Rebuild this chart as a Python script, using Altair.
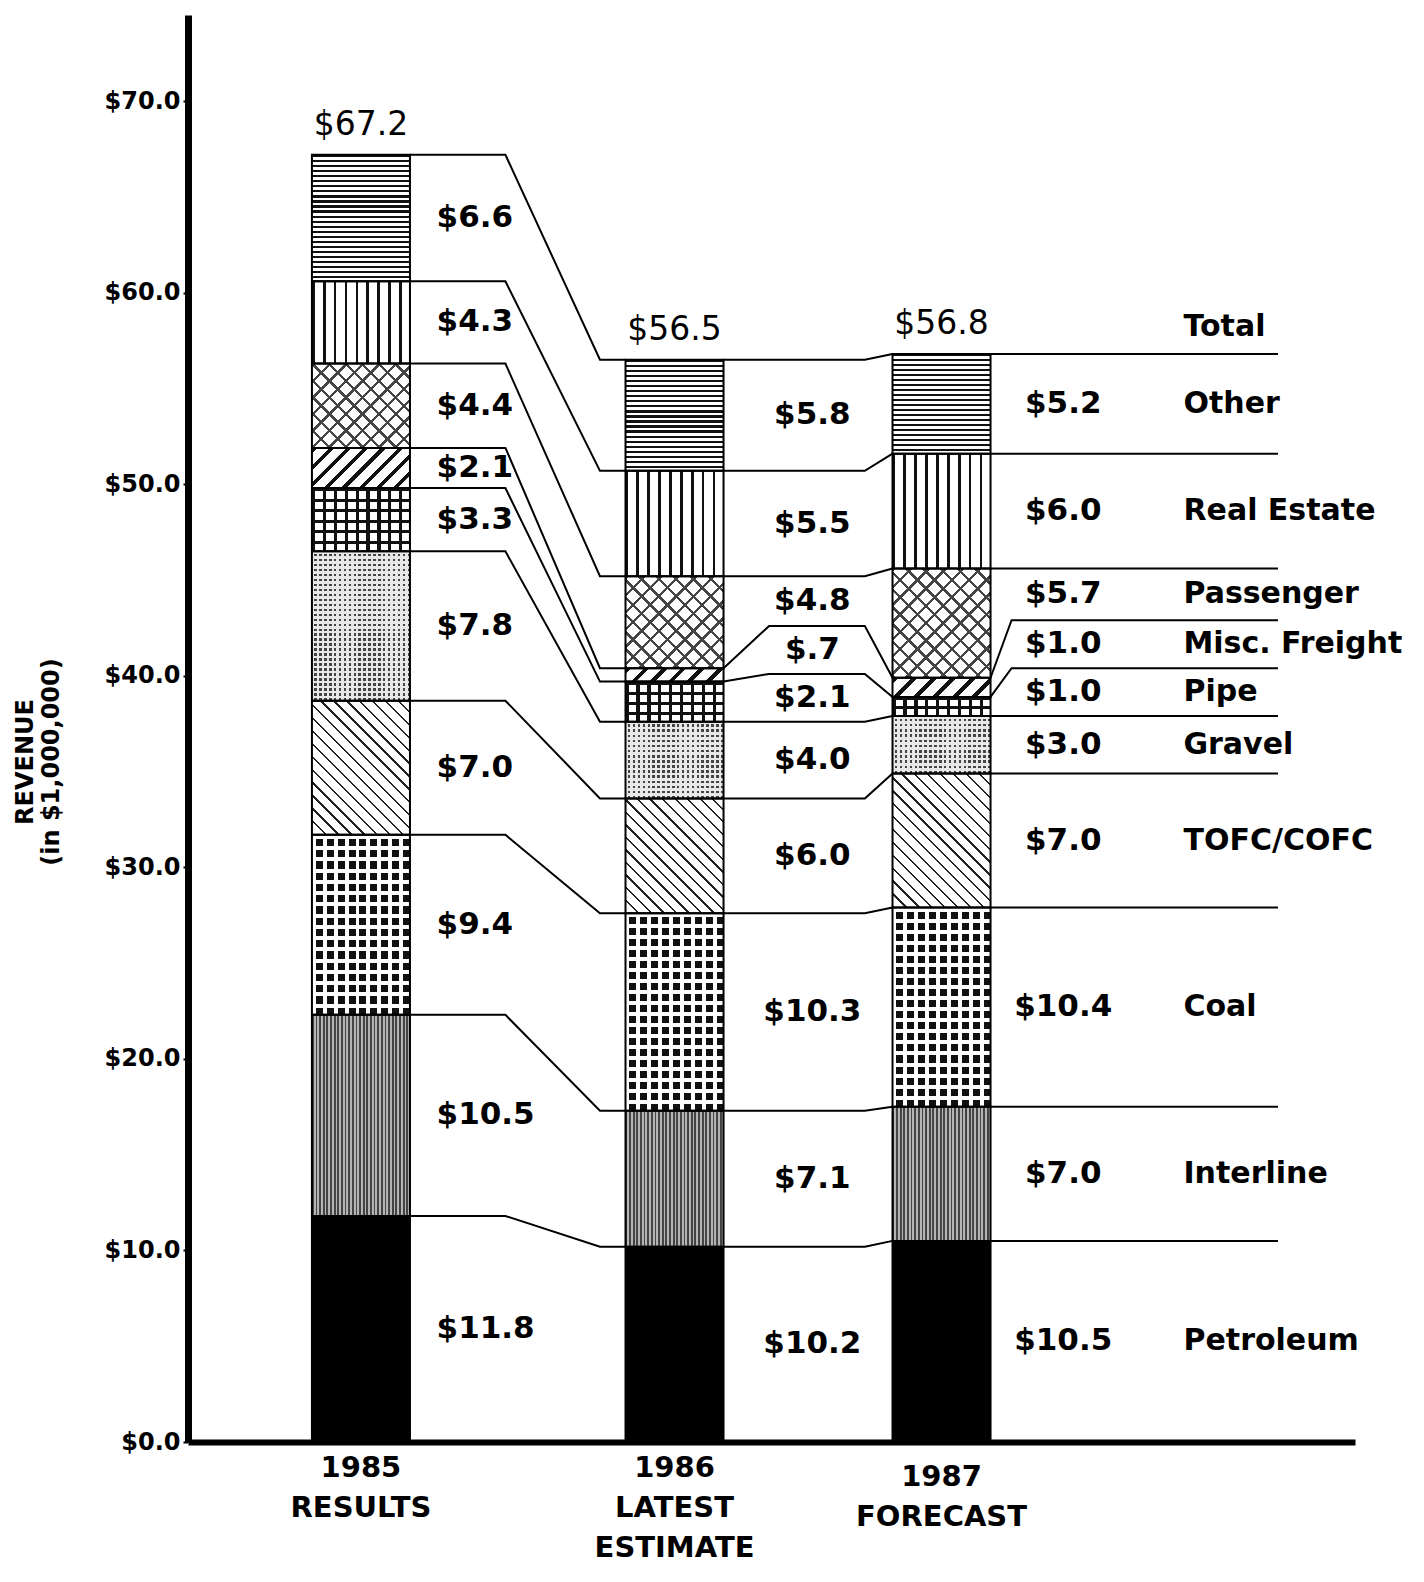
import math
import pandas as pd
import altair as alt

# ---------------- data ----------------
CATEGORIES = ["Petroleum", "Interline", "Coal", "TOFC/COFC", "Gravel", "Pipe",
              "Misc. Freight", "Passenger", "Real Estate", "Other"]
V1985 = [11.8, 10.5, 9.4, 7.0, 7.8, 3.3, 2.1, 4.4, 4.3, 6.6]
V1986 = [10.2, 7.1, 10.3, 6.0, 4.0, 2.1, 0.7, 4.8, 5.5, 5.8]
V1987 = [10.5, 7.0, 10.4, 7.0, 3.0, 1.0, 1.0, 5.7, 6.0, 5.2]
TOTALS = [67.2, 56.5, 56.8]
X_LABELS = ["1985\nRESULTS", "1986\nLATEST\nESTIMATE", "1987\nFORECAST"]
Y_TICKS = [0, 10, 20, 30, 40, 50, 60, 70]
Y_TITLE = ["REVENUE", "(in $1,000,000)"]
TOTAL_NAME = "Total"

# ---------------- layout ----------------
FONT = "DejaVu Sans"
W_PX, H_PX = 1167, 1427
X_DOM = [0, 100]
Y_DOM = [0, 74.5]
PXX = W_PX / (X_DOM[1] - X_DOM[0])
PXY = H_PX / (Y_DOM[1] - Y_DOM[0])
BAR_CENTERS = [14.82, 41.69, 64.57]
BAR_HALF = 4.2
XA1, XA2 = 27.2, 35.3
XB_DIAG, XB1 = 3.9, 58.0
XC_DIAG, XC_END = 1.8, 93.4
LBL_X = [21.3, 53.5, 75.0]
NAME_X = 85.3
MIN_GAP = 2.5
XLABEL_DY = [0, 0, 9]

xs = alt.Scale(domain=X_DOM, nice=False, zero=False)
ys = alt.Scale(domain=Y_DOM, nice=False, zero=False)
AX_X = alt.Axis(title=None, labels=False, ticks=False, grid=False,
                domainWidth=6, domainColor="black")
AX_Y = alt.Axis(title=None, values=Y_TICKS, format="$.1f", grid=False,
                domainWidth=7, domainColor="black", tickColor="black",
                tickSize=5, tickWidth=2, labelFont=FONT, labelFontSize=24,
                labelFontWeight="bold", labelColor="black", labelPadding=3,
                labelOverlap=False)


def X(field):
    return alt.X(field, scale=xs, axis=AX_X)


def Y(field):
    return alt.Y(field, scale=ys, axis=AX_Y)


def cum(vals):
    out = [0.0]
    for v in vals:
        out.append(round(out[-1] + v, 4))
    return out


def spread(levels):
    out = [levels[0]]
    for v in levels[1:]:
        out.append(round(max(v, out[-1] + MIN_GAP), 4))
    return out


def fmt(v):
    s = f"${v:.1f}"
    return s.replace("$0.", "$.")


c85, c86, c87 = cum(V1985), cum(V1986), cum(V1987)
m86, r87 = spread(c86), spread(c87)
x85R = BAR_CENTERS[0] + BAR_HALF
x86L, x86R = BAR_CENTERS[1] - BAR_HALF, BAR_CENTERS[1] + BAR_HALF
x87L, x87R = BAR_CENTERS[2] - BAR_HALF, BAR_CENTERS[2] + BAR_HALF

# ---------------- patterns ----------------
TRANSP = "rgba(255,255,255,0)"
PATTERNS = {
    "Other": [("h", 5.0, 0.45, "#111", "white")],
    "Real Estate": [("v", 10.9, 0.25, "#111", "white")],
    "Passenger": [("/", 12, 0.2, "#444", "white"), ("\\", 12, 0.2, "#444", TRANSP)],
    "Misc. Freight": [("/", 13, 0.3, "#111", "white")],
    "Pipe": [("v", 10.9, 0.3, "#111", "white"), ("h", 10, 0.3, "#111", TRANSP)],
    "Gravel": [("solid", "#444"), ("v", 5, 0.5, "#e8e8e8", TRANSP), ("h", 5, 0.5, "#e8e8e8", TRANSP)],
    "TOFC/COFC": [("\\", 9, 0.18, "#222", "white")],
    "Coal": [("solid", "#111"), ("v", 11, 0.36, "white", TRANSP), ("h", 11, 0.36, "white", TRANSP)],
    "Interline": [("v", 3.6, 0.5, "#444", "#b4b4b4")],
    "Petroleum": [("solid", "black")],
}


def grad_fill(kind, period, frac, c_on, c_off, W, H):
    if kind == "h":
        n = max(1, round(H / period))
        pts = dict(x1=0, y1=0, x2=0, y2=1)
    elif kind == "v":
        n = max(1, round(W / period))
        pts = dict(x1=0, y1=0, x2=1, y2=0)
    else:
        r = H / W
        s = (1 + r) / (1 + r * r)
        n = max(1, round((W + H) / (math.sqrt(2) * period)))
        if kind == "/":
            pts = dict(x1=0, y1=0, x2=round(s, 6), y2=round(s * r, 6))
        else:
            pts = dict(x1=0, y1=1, x2=round(s, 6), y2=round(1 - s * r, 6))
    stops = []
    for i in range(n):
        a, b, c = i / n, (i + frac) / n, (i + 1) / n
        stops += [(a, c_on), (b, c_on), (b, c_off), (c, c_off)]
    return alt.LinearGradient(
        gradient="linear",
        stops=[alt.GradientStop(offset=round(o, 6), color=col) for o, col in stops],
        **pts,
    )


# ---------------- connector lines ----------------
line_rows = []


def add_line(lid, pts):
    for k, (x, y) in enumerate(pts):
        line_rows.append(dict(id=lid, ord=k, x=x, y=y))


for k in range(1, len(CATEGORIES) + 1):
    add_line(f"a{k}", [(x85R, c85[k]), (XA1, c85[k]), (XA2, c86[k]), (x86L, c86[k])])
    add_line(f"b{k}", [(x86R, c86[k]), (x86R + XB_DIAG, m86[k]), (XB1, m86[k]), (x87L, c87[k])])
    add_line(f"c{k}", [(x87R, c87[k]), (x87R + XC_DIAG, r87[k]), (XC_END, r87[k])])

lines = alt.Chart(pd.DataFrame(line_rows)).mark_line(color="black", strokeWidth=2).encode(
    x=X("x:Q"), y=Y("y:Q"), detail="id:N", order="ord:Q",
)

layers = [lines]

# ---------------- bars ----------------
seg_rows = []
for j, (vals, cs) in enumerate([(V1985, c85), (V1986, c86), (V1987, c87)]):
    for i, cat in enumerate(CATEGORIES):
        seg_rows.append(dict(cat=cat, year=j, x=BAR_CENTERS[j] - BAR_HALF, x2=BAR_CENTERS[j] + BAR_HALF,
                             y=cs[i], y2=cs[i + 1]))

Wseg = 2 * BAR_HALF * PXX
for row in seg_rows:
    H = (row["y2"] - row["y"]) * PXY
    df1 = pd.DataFrame([row])
    for p in PATTERNS[row["cat"]]:
        if p[0] == "solid":
            fill = p[1]
        else:
            fill = grad_fill(p[0], p[1], p[2], p[3], p[4], Wseg, H)
        layers.append(
            alt.Chart(df1).mark_rect(fill=fill, strokeWidth=0).encode(
                x=X("x:Q"), x2="x2:Q", y=Y("y:Q"), y2="y2:Q",
            )
        )

layers.append(
    alt.Chart(pd.DataFrame(seg_rows)).mark_rect(filled=False, color="black", strokeWidth=2).encode(
        x=X("x:Q"), x2="x2:Q", y=Y("y:Q"), y2="y2:Q",
    )
)

# ---------------- value labels ----------------
lab85 = [dict(x=LBL_X[0], y=(c85[i] + c85[i + 1]) / 2, t=fmt(v)) for i, v in enumerate(V1985)]
lab86 = [dict(x=LBL_X[1], y=(m86[i] + m86[i + 1]) / 2, t=fmt(v)) for i, v in enumerate(V1986)]
lab87 = [dict(x=LBL_X[2], y=(r87[i] + r87[i + 1]) / 2, t=fmt(v)) for i, v in enumerate(V1987)]
names = [dict(x=NAME_X, y=(r87[i] + r87[i + 1]) / 2, t=c) for i, c in enumerate(CATEGORIES)]


def text_layer(rows, align, size, weight, dy=0):
    return alt.Chart(pd.DataFrame(rows)).mark_text(
        font=FONT, fontSize=size, fontWeight=weight, align=align, baseline="middle",
        color="black", dy=dy
    ).encode(
        x=X("x:Q"), y=Y("y:Q"), text="t:N",
    )


layers.append(text_layer(lab85, "left", 31, "bold"))
layers.append(text_layer(lab86 + lab87, "center", 31, "bold"))
layers.append(text_layer(names, "left", 30, "bold"))
layers.append(text_layer([dict(x=NAME_X, y=r87[-1], t=TOTAL_NAME)], "left", 30, "bold", dy=-27))
layers.append(text_layer([dict(x=BAR_CENTERS[j], y=TOTALS[j], t=fmt(TOTALS[j])) for j in range(3)],
                         "center", 33, "normal", dy=-30))

# ---------------- category labels under bars ----------------
for j in range(3):
    layers.append(
        alt.Chart(pd.DataFrame([dict(x=BAR_CENTERS[j], t=X_LABELS[j])])).mark_text(
            font=FONT, fontSize=29, fontWeight="bold", align="center", baseline="top",
            lineBreak="\n", lineHeight=40, color="black"
        ).encode(
            x=X("x:Q"), y=alt.value(H_PX + 12 + XLABEL_DY[j]), text="t:N",
        )
    )

# ---------------- y title ----------------
for k, txt in enumerate(Y_TITLE):
    layers.append(
        alt.Chart(pd.DataFrame([dict(t=txt)])).mark_text(
            font=FONT, fontSize=24, fontWeight="bold", angle=270, align="center",
            baseline="middle", color="black"
        ).encode(
            x=alt.value(-162 + 26 * k),
            y=alt.value(747),
            text="t:N",
        )
    )

chart = alt.layer(*layers).properties(
    width=W_PX, height=H_PX,
    autosize=alt.AutoSizeParams(type="none"),
    padding={"left": 180, "top": 7, "right": 60, "bottom": 135},
).configure_view(stroke=None)

chart.save("out.html", embed_options={"renderer": "svg", "actions": False})
